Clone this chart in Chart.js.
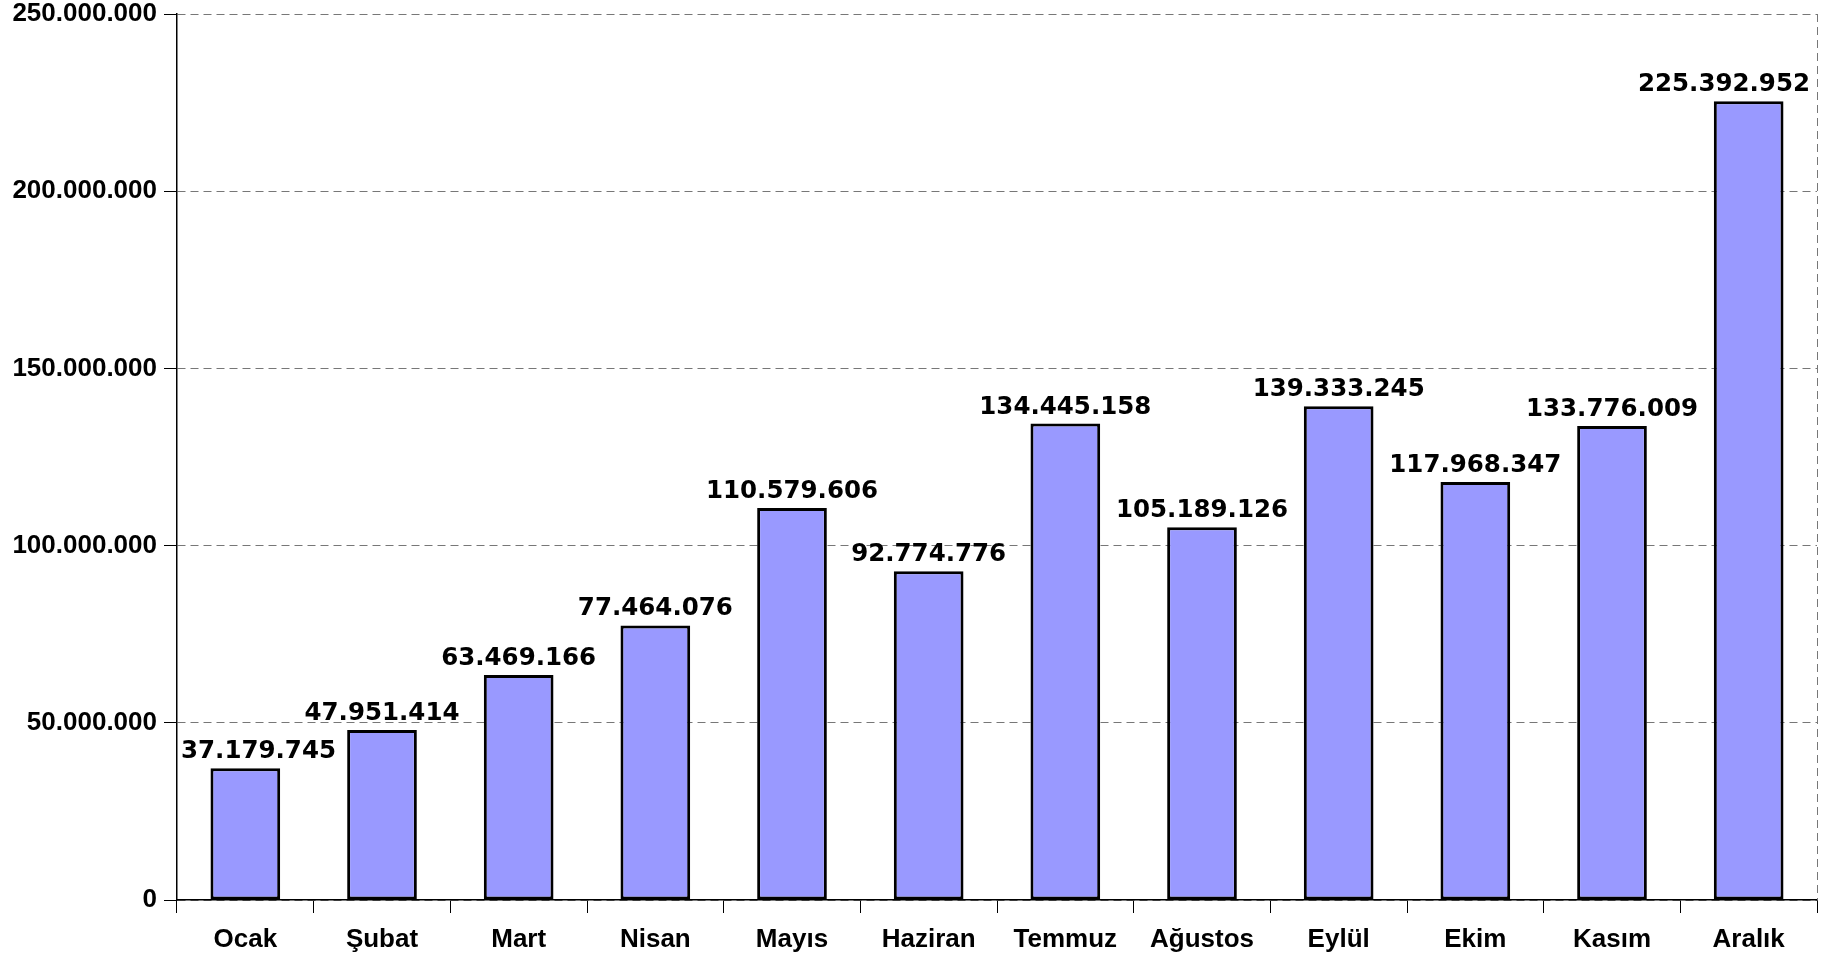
<!DOCTYPE html>
<html>
<head>
<meta charset="utf-8">
<script src="https://cdn.jsdelivr.net/npm/chart.js@4/dist/chart.umd.min.js"></script>
<style>
  body { margin: 0; background: #fff; }
  canvas { display: block; }
</style>
</head>
<body>
<canvas id="aylik_chart" width="1836" height="956"></canvas>
<script>
const months = ['Ocak', 'Şubat', 'Mart', 'Nisan', 'Mayıs', 'Haziran', 'Temmuz', 'Ağustos', 'Eylül', 'Ekim', 'Kasım', 'Aralık'];
const values = [37179745, 47951414, 63469166, 77464076, 110579606, 92774776, 134445158, 105189126, 139333245, 117968347, 133776009, 225392952];
const yTicks = [0, 50000000, 100000000, 150000000, 200000000, 250000000];

const fmt = v => String(v).replace(/\B(?=(\d{3})+(?!\d))/g, '.');

// value labels above bars, kept inside the plot area
const barLabels = {
    id: 'barLabels',
    afterDatasetsDraw(chart) {
        const ctx = chart.ctx;
        const area = chart.chartArea;
        ctx.save();
        ctx.font = 'bold 24.5px "DejaVu Sans"';
        ctx.fillStyle = '#000';
        ctx.textAlign = 'left';
        ctx.textBaseline = 'alphabetic';
        chart.getDatasetMeta(0).data.forEach((bar, i) => {
            const txt = fmt(values[i]);
            const w = ctx.measureText(txt).width;
            let x = bar.x - w / 2;
            if (x < area.left + 4) x = area.left + 4;
            if (x + w > area.right - 7) x = area.right - 7 - w;
            ctx.fillText(txt, x, bar.y - 10);
        });
        ctx.restore();
    }
};

// dashed right frame
const frame = {
    id: 'frame',
    beforeDatasetsDraw(chart) {
        const ctx = chart.ctx;
        const a = chart.chartArea;
        ctx.save();
        ctx.strokeStyle = '#777';
        ctx.lineWidth = 1;
        ctx.setLineDash([8, 5]);
        ctx.beginPath();
        ctx.moveTo(a.right + 0.5, a.top);
        ctx.lineTo(a.right + 0.5, a.bottom);
        ctx.stroke();
        ctx.restore();
    }
};

new Chart(document.getElementById('aylik_chart').getContext('2d'), {
    type: 'bar',
    data: {
        labels: months,
        datasets: [{
            data: values,
            backgroundColor: '#9999FF',
            borderColor: '#000',
            borderWidth: 3,
            borderSkipped: false,
            categoryPercentage: 1,
            barPercentage: 0.51
        }]
    },
    options: {
        responsive: false,
        animation: false,
        layout: {
            padding: {top: 14, right: 19, left: 0, bottom: 0}
        },
        plugins: {
            legend: {display: false},
            tooltip: {enabled: false}
        },
        scales: {
            x: {
                afterFit: s => { s.height = 56; },
                grid: {
                    drawOnChartArea: false,
                    tickLength: 13,
                    tickColor: '#000',
                    tickWidth: 1
                },
                border: {color: '#000', width: 1.5},
                ticks: {
                    color: '#000',
                    padding: 11,
                    font: {family: '"Liberation Sans", Arial', weight: 'bold', size: 26}
                }
            },
            y: {
                min: 0,
                max: 250000000,
                afterFit: s => { s.width = 177; s.paddingTop = 0; s.paddingBottom = 0; },
                afterBuildTicks: s => { s.ticks = yTicks.map(v => ({value: v})); },
                grid: {
                    color: '#777',
                    lineWidth: 1,
                    tickLength: 13,
                    tickColor: '#000',
                    tickBorderDash: []
                },
                border: {color: '#000', width: 1.5, dash: [8, 5]},
                ticks: {
                    color: '#000',
                    padding: 7,
                    font: {family: '"Liberation Sans", Arial', weight: 'bold', size: 26, lineHeight: 0.5},
                    callback: v => fmt(v)
                }
            }
        }
    },
    plugins: [frame, barLabels]
});
</script>
</body>
</html>
